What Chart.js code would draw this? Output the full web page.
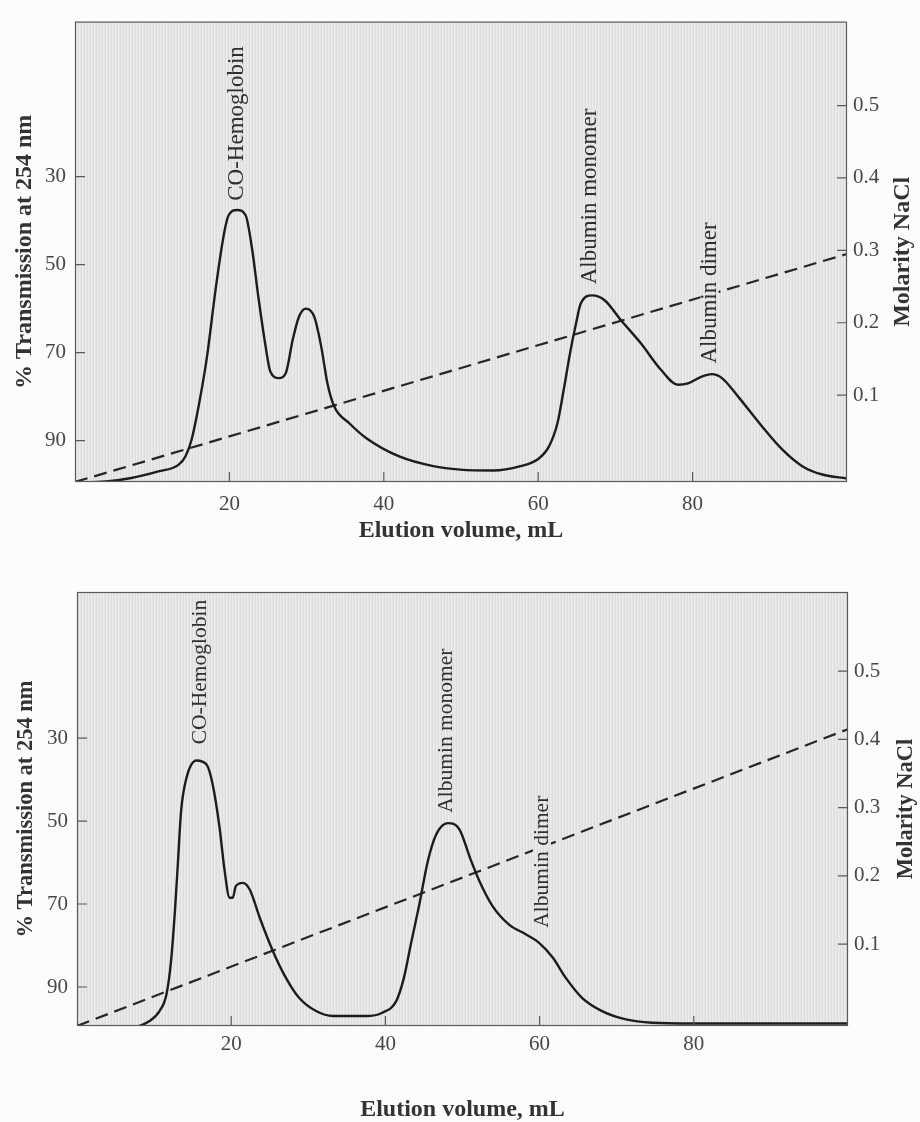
<!DOCTYPE html>
<html><head><meta charset="utf-8">
<script src="https://cdn.jsdelivr.net/npm/chart.js@4/dist/chart.umd.min.js"></script>
<style>
html,body{margin:0;padding:0;background:#fcfcfc;overflow:hidden;width:920px;height:1122px;}
.wrap{position:absolute;left:0;width:920px;}
</style></head><body>
<div class="wrap" style="top:0;height:550px"><canvas id="c1" width="920" height="550"></canvas></div>
<div class="wrap" style="top:550px;height:572px"><canvas id="c2" width="920" height="572"></canvas></div>
<script>
// ---- data ----
const xTicks = [20, 40, 60, 80];
const transmissionTicks = [30, 50, 70, 90];
const molarityTicks = [0.1, 0.2, 0.3, 0.4, 0.5];

const topVolume = [0, 4, 7.3, 10.8, 13.4, 14.3, 15.1, 16, 17.1, 18.2, 19.3, 19.9, 21, 22.1, 22.9, 23.8, 24.7, 25.3, 26.4, 27.3, 28.2, 29, 29.9, 31, 31.9, 32.7, 33.6, 35.5, 37.7, 42, 46.4, 49.9, 54.2, 57.7, 59.9, 61.4, 62.5, 63.3, 64.2, 64.9, 65.5, 67, 68.6, 70.7, 73.3, 75.9, 78.1, 79.4, 81.1, 82.5, 83.8, 85.9, 89, 91.6, 94.2, 96.8, 100];
const topTransmission = [99.6, 99.3, 98.5, 97, 95.5, 93.6, 89.8, 82.3, 70.9, 55.8, 43, 38.8, 37.6, 38.8, 46, 58, 68.7, 74.3, 75.8, 74.7, 67.1, 61.9, 60, 61.9, 68.7, 77, 82.3, 86, 89.4, 93.6, 95.8, 96.6, 96.8, 95.8, 94.3, 91.3, 86, 78.5, 69.4, 63.4, 58.9, 57, 58.1, 62.6, 67.9, 73.9, 77.3, 77, 75.5, 74.9, 75.8, 80, 86.8, 92, 95.8, 97.7, 98.6];
const topGradientVolume = [0, 100];
const topGradientMolarity = [-0.02, 0.295];

const bottomVolume = [0, 7.3, 9.4, 10.7, 11.6, 12.2, 12.7, 13.1, 13.5, 14.2, 15.5, 16.8, 17.6, 18.5, 19.1, 19.8, 20.2, 20.6, 21.5, 22.4, 23.7, 25.4, 27.1, 28.8, 31, 33.2, 37.5, 39.6, 41.4, 42.4, 43.3, 44.4, 45.5, 46.6, 48.1, 49.6, 51, 52.2, 53.9, 56, 58.2, 59.9, 61.7, 63.4, 65.5, 68.1, 71.2, 74.6, 79.8, 100];
const bottomTransmission = [99.6, 99.6, 98.2, 95.8, 91.8, 83.7, 71.7, 59.7, 47.6, 39.6, 35.4, 36.4, 41.2, 51.7, 61.3, 68.5, 68.5, 65.7, 64.9, 66.5, 73.3, 81.3, 87.8, 92.6, 95.8, 97, 97, 96.2, 93.4, 87.8, 79.7, 70.1, 59.7, 53.2, 50.5, 52, 59, 64.5, 70.5, 74.9, 77.3, 79.3, 82.9, 87.8, 92.6, 95.8, 97.8, 98.6, 98.8, 98.8];
const bottomGradientVolume = [0, 100];
const bottomGradientMolarity = [-0.02, 0.415];

const peakNames = ['CO-Hemoglobin', 'Albumin monomer', 'Albumin dimer'];
const topPeakVolume = [21, 66.7, 82.2];
const topPeakLabelBase = [35.5, 54.5, 72.5];
const bottomPeakVolume = [16, 47.9, 60.3];
const bottomPeakLabelBase = [31.5, 48, 75.7];

// ---- styling helpers ----
const SERIF = "'Liberation Serif', 'Times New Roman', serif";
let stripe = null;
function stripePattern(ctx) {
  if (!stripe) {
    const c = document.createElement('canvas');
    c.width = 3; c.height = 2;
    const g = c.getContext('2d');
    const cols = ['#dddddd', '#ececec', '#e5e5e5'];
    cols.forEach((col, i) => { g.fillStyle = col; g.fillRect(i, 0, 1, 2); });
    stripe = c;
  }
  return ctx.createPattern(stripe, 'repeat');
}

function makeChart(id, geo, vol, trans, gVol, gMol, labelVol, labelBase) {
  const ctx = document.getElementById(id).getContext('2d');
  const decor = {
    id: 'decor',
    beforeDatasetsDraw(chart) {
      const {ctx, chartArea: a} = chart;
      ctx.save();
      ctx.fillStyle = stripePattern(ctx);
      ctx.fillRect(a.left, a.top, a.right - a.left, a.bottom - a.top);
      ctx.restore();
    },
    afterDatasetsDraw(chart) {
      const {ctx, chartArea: a, scales} = chart;
      ctx.save();
      // peak labels with knock-out of the background behind them
      ctx.font = geo.labelSize + 'px ' + SERIF;
      ctx.textAlign = 'left';
      ctx.textBaseline = 'middle';
      peakNames.forEach((t, i) => {
        const px = scales.x.getPixelForValue(labelVol[i]);
        const py = scales.y.getPixelForValue(labelBase[i]);
        const w = ctx.measureText(t).width;
        const top = Math.max(a.top + 2, py - w - 2);
        ctx.fillStyle = stripePattern(ctx);
        ctx.fillRect(px - 9, top, 18, py - top);
        ctx.fillStyle = '#2e2e2e';
        ctx.save();
        ctx.translate(px, py);
        ctx.rotate(-Math.PI / 2);
        ctx.fillText(t, 0, 0);
        ctx.restore();
      });
      // frame and inward tick marks
      ctx.strokeStyle = '#5a5a5a';
      ctx.lineWidth = 1.2;
      ctx.strokeRect(a.left + 0.5, a.top + 0.5, a.right - a.left - 1, a.bottom - a.top - 1);
      ctx.beginPath();
      xTicks.forEach(v => { const p = scales.x.getPixelForValue(v); ctx.moveTo(p, a.bottom); ctx.lineTo(p, a.bottom - 10); });
      transmissionTicks.forEach(v => { const p = scales.y.getPixelForValue(v); ctx.moveTo(a.left, p); ctx.lineTo(a.left + 10, p); });
      molarityTicks.forEach(v => { const p = scales.y2.getPixelForValue(v); ctx.moveTo(a.right, p); ctx.lineTo(a.right - 10, p); });
      ctx.stroke();
      // right axis title (reads bottom to top)
      ctx.font = 'bold ' + geo.vTitleSize + 'px ' + SERIF;
      ctx.fillStyle = '#333';
      ctx.textAlign = 'center';
      ctx.save();
      ctx.translate(geo.rightTitleX, (a.top + a.bottom) / 2);
      ctx.rotate(-Math.PI / 2);
      ctx.fillText('Molarity NaCl', 0, 0);
      ctx.restore();
      ctx.restore();
    }
  };
  const tickFont = {family: SERIF, size: 21};
  return new Chart(ctx, {
    type: 'line',
    data: {
      datasets: [
        {data: vol.map((v, i) => ({x: v, y: trans[i]})), yAxisID: 'y', borderColor: '#1c1c1c', borderWidth: 2.4,
         pointRadius: 0, cubicInterpolationMode: 'monotone', fill: false},
        {data: gVol.map((v, i) => ({x: v, y: gMol[i]})), yAxisID: 'y2', borderColor: '#262626', borderWidth: 2.2,
         borderDash: [13, 7], pointRadius: 0, fill: false}
      ]
    },
    options: {
      responsive: false, animation: false, devicePixelRatio: 1,
      layout: {padding: {top: geo.top, left: 0, right: 0, bottom: 0}},
      plugins: {legend: {display: false}, tooltip: {enabled: false}},
      scales: {
        x: {
          type: 'linear', min: 0, max: 100,
          afterBuildTicks: s => { s.ticks = xTicks.map(v => ({value: v})); },
          afterFit: s => { s.height = geo.H - geo.bottom; },
          grid: {display: false, drawTicks: false}, border: {display: false},
          ticks: {padding: geo.xPad, font: tickFont, color: '#474747'},
          title: {display: true, text: 'Elution volume, mL', color: '#333',
                  font: {family: SERIF, size: 24, weight: 'bold', lineHeight: 1}, padding: {top: 0, bottom: geo.xTitlePad}}
        },
        y: {
          type: 'linear', position: 'left', reverse: true, min: -5.2, max: 99.4,
          afterBuildTicks: s => { s.ticks = transmissionTicks.map(v => ({value: v})); },
          afterFit: s => { s.width = geo.left; },
          grid: {display: false, drawTicks: false}, border: {display: false},
          ticks: {padding: 9, font: tickFont, color: '#474747'},
          title: {display: true, text: '% Transmission at 254 nm', color: '#333',
                  font: {family: SERIF, size: geo.vTitleSize, weight: 'bold', lineHeight: 1}, padding: {top: geo.yTitlePad, bottom: 0}}
        },
        y2: {
          type: 'linear', position: 'right', min: -0.02, max: 0.616,
          afterBuildTicks: s => { s.ticks = molarityTicks.map(v => ({value: v})); },
          afterFit: s => { s.width = 920 - geo.right; },
          grid: {display: false, drawTicks: false}, border: {display: false},
          ticks: {padding: 6, font: tickFont, color: '#474747', callback: v => v.toFixed(1)}
        }
      }
    },
    plugins: [decor]
  });
}

makeChart('c1', {H: 550, left: 75, right: 847, top: 16, bottom: 482, xPad: 10, xTitlePad: 7, yTitlePad: 13,
                 labelSize: 23, vTitleSize: 24, rightTitleX: 903},
  topVolume, topTransmission, topGradientVolume, topGradientMolarity, topPeakVolume, topPeakLabelBase);
makeChart('c2', {H: 572, left: 77, right: 848, top: 42, bottom: 476, xPad: 6, xTitlePad: 0, yTitlePad: 15,
                 labelSize: 21.5, vTitleSize: 22.5, rightTitleX: 906},
  bottomVolume, bottomTransmission, bottomGradientVolume, bottomGradientMolarity, bottomPeakVolume, bottomPeakLabelBase);
</script>
</body></html>
